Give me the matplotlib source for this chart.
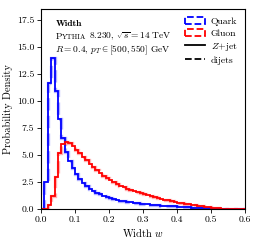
import numpy as np
import matplotlib
matplotlib.use("Agg")
import matplotlib.pyplot as plt
from matplotlib.patches import Patch
from matplotlib.lines import Line2D
from matplotlib.transforms import offset_copy

plt.rcParams['font.family'] = ['cmr10', 'DejaVu Serif']
plt.rcParams['mathtext.fontset'] = 'cm'
plt.rcParams['axes.formatter.use_mathtext'] = True

bin_edges = np.round(np.arange(0, 0.601, 0.01), 3)

quark_zjet = [0.0, 2.5, 11.7, 14.0, 10.9, 8.3, 6.6, 5.3, 4.4, 3.8,
              3.2, 2.75, 2.4, 2.1, 1.85, 1.65, 1.5, 1.35, 1.22, 1.1,
              1.0, 0.92, 0.85, 0.78, 0.72, 0.66, 0.61, 0.57, 0.53, 0.5,
              0.46, 0.43, 0.4, 0.37, 0.34, 0.32, 0.3, 0.28, 0.26, 0.24,
              0.22, 0.2, 0.18, 0.16, 0.14, 0.12, 0.1, 0.09, 0.07, 0.06,
              0.04, 0.03, 0.02, 0.01, 0.0, 0.0, 0.0, 0.0, 0.0, 0.0]
gluon_zjet = [0.0, 0.05, 0.4, 1.2, 3.0, 5.2, 6.0, 6.2, 6.1, 5.85,
              5.5, 5.2, 4.85, 4.5, 4.2, 3.9, 3.6, 3.35, 3.1, 2.9,
              2.7, 2.5, 2.3, 2.15, 2.0, 1.88, 1.76, 1.65, 1.55, 1.45,
              1.36, 1.27, 1.18, 1.1, 1.02, 0.95, 0.88, 0.81, 0.74, 0.67,
              0.6, 0.55, 0.5, 0.45, 0.4, 0.35, 0.3, 0.26, 0.22, 0.18,
              0.14, 0.1, 0.07, 0.05, 0.03, 0.02, 0.01, 0.01, 0.0, 0.0]
quark_dijets = list(quark_zjet)
gluon_dijets = list(gluon_zjet)

fig = plt.figure(figsize=(2.58, 2.42), dpi=100)
ax = fig.add_axes([0.159, 0.136, 0.791, 0.827])

ax.stairs(quark_dijets, bin_edges, color='blue', lw=2.4, ls='--', alpha=0.3)
ax.stairs(gluon_dijets, bin_edges, color='red', lw=2.4, ls='--', alpha=0.3)
ax.stairs(quark_zjet, bin_edges, color='blue', lw=1.3)
ax.stairs(gluon_zjet, bin_edges, color='red', lw=1.3)

ax.set_xlim(0, 0.6)
ax.set_ylim(0, 18.5)
ax.set_xticks([0.0, 0.1, 0.2, 0.3, 0.4, 0.5, 0.6])
ax.set_xticklabels(['0.0', '0.1', '0.2', '0.3', '0.4', '0.5', '0.6'])
ax.set_yticks([0.0, 2.5, 5.0, 7.5, 10.0, 12.5, 15.0, 17.5])
ax.set_yticklabels(['0.0', '2.5', '5.0', '7.5', '10.0', '12.5', '15.0', '17.5'])
ax.tick_params(labelsize=7, length=3, width=0.6, pad=2)
ax.set_xlabel(r'Width $w$', fontsize=7.5, labelpad=2)
ax.set_ylabel('Probability Density', fontsize=7.5, labelpad=3)
for s in ax.spines.values():
    s.set_linewidth(0.8)

ax.text(0.07, 0.915, 'Width', transform=ax.transAxes, fontsize=6.8,
        va='baseline', family=['cmb10', 'DejaVu Serif'])

renderer = fig.canvas.get_renderer()
x_pts = 0.0
parts = [('P', 6.8), ('YTHIA', 5.3), (r' 8.230, $\sqrt{s}=14$ TeV', 6.8)]
for txt, fs in parts:
    tr = offset_copy(ax.transAxes, fig=fig, x=x_pts, y=0, units='points')
    t = ax.text(0.07, 0.85, txt, transform=tr, fontsize=fs, va='baseline')
    fig.canvas.draw()
    x_pts += t.get_window_extent(renderer).width * 72.0 / fig.dpi

ax.text(0.07, 0.785, r'$R=0.4,\, p_T\in[500,550]$ GeV', transform=ax.transAxes,
        fontsize=6.8, va='baseline')

handles = [Patch(facecolor='none', edgecolor='blue', ls='--', lw=1.3),
           Patch(facecolor='none', edgecolor='red', ls='--', lw=1.3),
           Line2D([], [], color='black', lw=1.3),
           Line2D([], [], color='black', lw=1.3, ls='--')]
labels = ['Quark', 'Gluon', r'$Z$+jet', 'dijets']
ax.legend(handles, labels, loc='upper right', fontsize=7, frameon=False,
          handlelength=2.0, handleheight=0.8, labelspacing=0.3,
          borderaxespad=0.4, handletextpad=0.6)

fig.savefig('out.png', dpi=100)
